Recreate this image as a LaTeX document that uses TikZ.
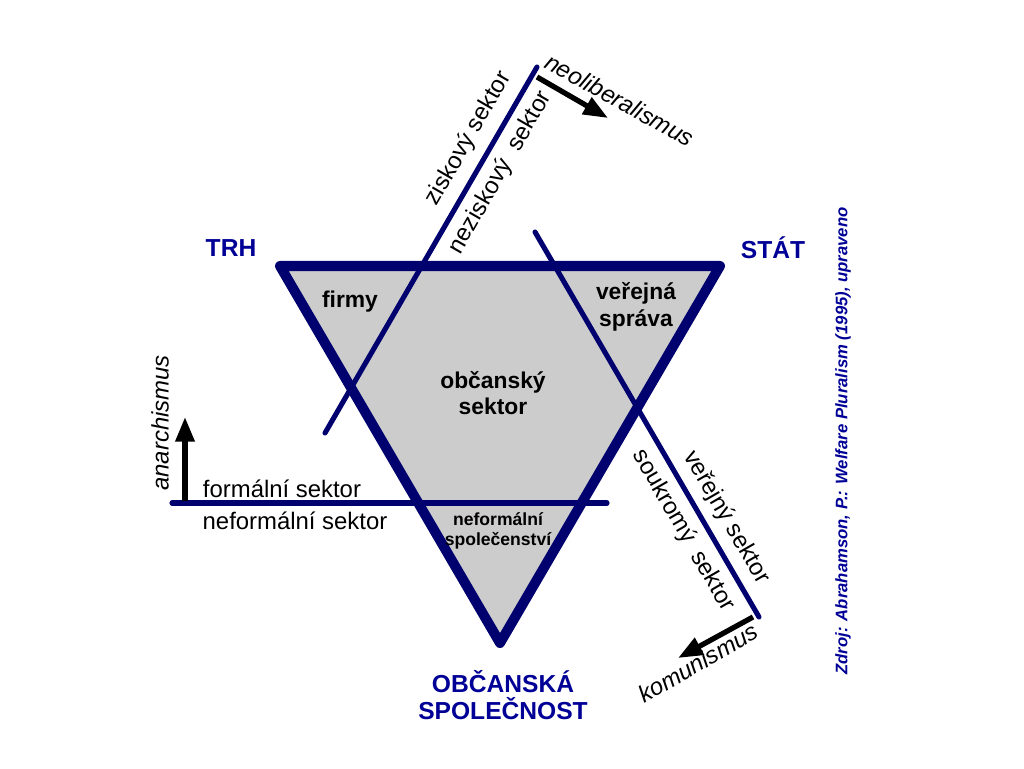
\documentclass[tikz,border=0pt]{standalone}
\usepackage{fontspec}
\setmainfont{Liberation Sans}
\usepackage{tikz}
\usetikzlibrary{arrows.meta,positioning,calc}
\definecolor{navy}{RGB}{0,0,110}
\definecolor{lblue}{RGB}{0,0,150}
\definecolor{tgray}{RGB}{204,204,204}
\tikzset{
  tri/.style    = {draw=navy, fill=tgray, line width=5.7pt, line join=round},
  sect/.style   = {draw=navy, line width=2.9pt, line cap=round},
  arr/.style    = {draw=black, line width=3pt,
                   -{Triangle[length=14pt, width=10.5pt]}},
  lbl/.style    = {font=\fontsize{13.6}{15}\selectfont, inner sep=0pt},
  lblit/.style  = {lbl, font=\fontsize{13.6}{15}\itshape},
  inlbl/.style  = {font=\fontsize{13}{15}\bfseries\selectfont, align=center,
                   inner sep=0pt},
  smlbl/.style  = {font=\fontsize{10}{11}\bfseries\selectfont, align=center,
                   inner sep=0pt},
  pole/.style   = {text=lblue, font=\fontsize{14}{15.5}\bfseries\selectfont,
                   align=center, inner sep=0pt},
  src/.style    = {text=lblue, font=\fontsize{9.5}{11}\bfseries\itshape\selectfont,
                   inner sep=0pt},
}
\begin{document}
\begin{tikzpicture}[x=0.02cm, y=-0.02cm]
  \useasboundingbox (0,0) rectangle (1024,768);
  % triangle
  \coordinate (tl) at (280,266);
  \coordinate (tr) at (720,266);
  \coordinate (bt) at (500,643);
  \draw[tri] (tl) -- (tr) -- (bt) -- cycle;
  % sector lines
  \coordinate (za) at (325,433);
  \coordinate (zb) at (537,67);
  \coordinate (va) at (535,232);
  \coordinate (vb) at (759,617);
  \coordinate (fa) at (172,503);
  \coordinate (fb) at (607,503);
  \draw[sect] (za) -- (zb);
  \draw[sect] (va) -- (vb);
  \draw[sect] (fa) -- (fb);
  % arrows
  \coordinate (ana) at (185,501);
  \coordinate (anb) at (185,417);
  \coordinate (nla) at (537,77);
  \coordinate (nlb) at (608,118);
  \coordinate (kma) at (753,617);
  \coordinate (kmb) at (678,658);
  \draw[arr] (ana) -- (anb);
  \draw[arr] (nla) -- (nlb);
  \draw[arr] (kma) -- (kmb);
  % inner labels
  \node[inlbl] (firmy) at (350,302) {firmy};
  \node[inlbl] (sprava) at (636,307) {veřejná\\správa};
  \node[inlbl] (obs) at (493,393) {občanský\\sektor};
  \node[smlbl] (nsp) at (498,531) {neformální\\společenství};
  % poles
  \node[pole] (trh) at (231,248) {TRH};
  \node[pole] (stat) at (773,248) {STÁT};
  \node[pole] (osp) at (503,695) {OBČANSKÁ\\SPOLEČNOST};
  % sector labels
  \node[lbl, rotate=60] (zisk) at (468.5,138.5) {ziskový sektor};
  \node[lbl, rotate=60] (nezisk) at (500.5,172.5) {neziskový\ \ sektor};
  \node[lbl, rotate=-60] (verej) at (726.5,517.5) {veřejný sektor};
  \node[lbl, rotate=-60] (soukr) at (683.5,530.5) {soukromý\ \ sektor};
  \node[lbl] (form) at (282,489) {formální sektor};
  \node[lbl] (neform) at (295,521) {neformální sektor};
  \node[lblit, rotate=-29] (neol) at (620,100) {neoliberalismus};
  \node[lblit, rotate=30] (komun) at (698,663) {komunismus};
  \node[lblit, rotate=90] (anar) at (160,423) {anarchismus};
  \node[src, rotate=90] (zdroj) at (843,441)
    {Zdroj: Abrahamson, P.: Welfare Pluralism (1995), upraveno};
\end{tikzpicture}
\end{document}
